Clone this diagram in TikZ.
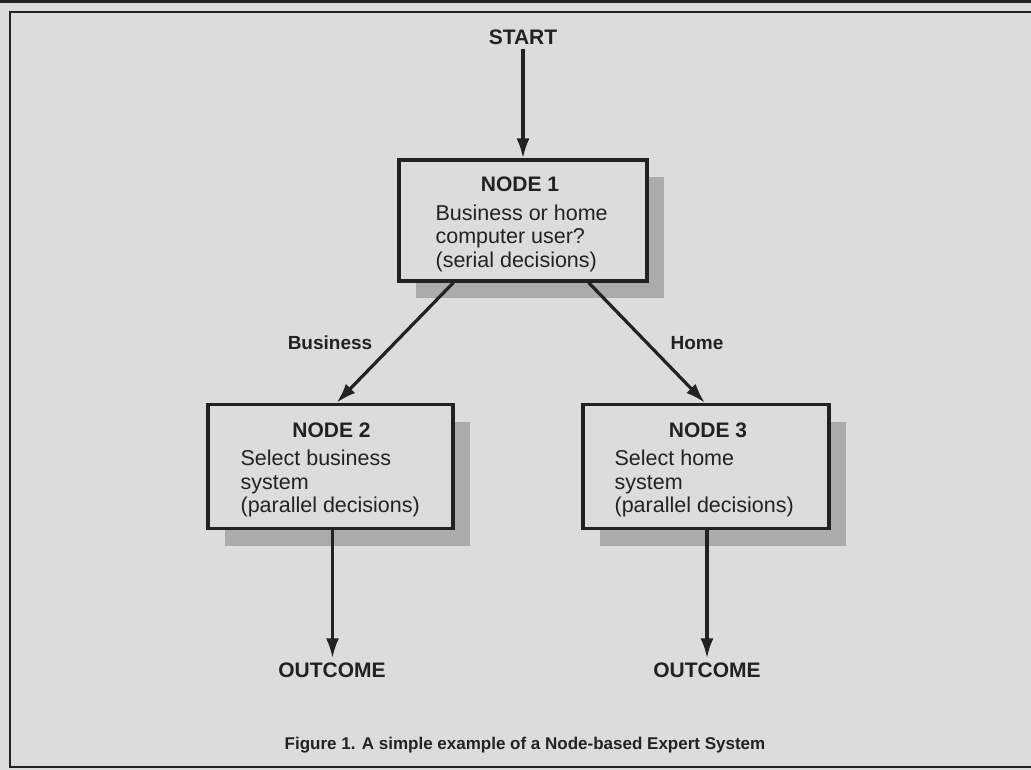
\documentclass[tikz,border=0pt]{standalone}
\usepackage{fontspec}
\setmainfont{Liberation Sans}
\usetikzlibrary{arrows.meta,shadows,calc}
\definecolor{bg}{HTML}{DCDCDC}
\definecolor{ink}{HTML}{222222}
\definecolor{shade}{HTML}{ABABAB}
\begin{document}
\begin{tikzpicture}[x=1pt,y=-1pt,
  box/.style={draw=ink, line width=3.2pt, fill=bg, inner sep=0pt,
    drop shadow={shadow xshift=17pt, shadow yshift=-17pt, fill=shade, opacity=1}},
  title/.style={inner sep=0pt, text=ink, font=\fontsize{21}{24}\selectfont\bfseries},
  body/.style={inner sep=0pt, text=ink, font=\fontsize{21.5}{23.5}\selectfont},
  lbl/.style={inner sep=4pt, text=ink, font=\fontsize{21}{24}\selectfont\bfseries},
  edge/.style={inner sep=0pt, text=ink, font=\fontsize{19}{22}\selectfont\bfseries},
  arr/.style={draw=ink, line width=3.2pt, -{Latex[length=20pt,width=13pt]}},
  frame/.style={draw=ink}]
\fill[bg] (0,0) rectangle (1031,770);
\useasboundingbox (0,0) rectangle (1031,770);
\draw[frame, line width=3pt] (0,1.5) -- (1031,1.5);
\draw[frame, line width=2.8pt] (1031,12) -- (10,12) -- (10,767) -- (1031,767);

% boxes
\node[box, minimum width=248pt, minimum height=121pt] (n1) at (523,220.5) {};
\node[box, minimum width=245pt, minimum height=124pt] (n2) at (330.5,466.5) {};
\node[box, minimum width=246pt, minimum height=124pt] (n3) at (706,466.5) {};

% box texts
\node[title, anchor=base] (n1h) at ($(n1.north)+(-3,33)$) {NODE 1};
\node[body, anchor=base west] (n1b) at ($(n1.north west)+(38,62)$)
  {\begin{tabular}[t]{@{}l@{}}Business or home\\computer user?\\(serial decisions)\end{tabular}};
\node[title, anchor=base] (n2h) at ($(n2.north)+(1,35)$) {NODE 2};
\node[body, anchor=base west] (n2b) at ($(n2.north west)+(34,63)$)
  {\begin{tabular}[t]{@{}l@{}}Select business\\system\\(parallel decisions)\end{tabular}};
\node[title, anchor=base] (n3h) at ($(n3.north)+(2,35)$) {NODE 3};
\node[body, anchor=base west] (n3b) at ($(n3.north west)+(33,63)$)
  {\begin{tabular}[t]{@{}l@{}}Select home\\system\\(parallel decisions)\end{tabular}};

% terminals
\node[lbl] (start) at (523,37) {START};
\node[lbl] (o1) at (332,670) {OUTCOME};
\node[lbl] (o2) at (707,670) {OUTCOME};

% edge labels
\node[edge] (lb) at (330,343) {Business};
\node[edge] (lh) at (697,343) {Home};

% connectors
\draw[arr] (start.south) -- (n1.north);
\draw[arr] ([xshift=56pt]n1.south west) -- ([xshift=6pt]n2.north);
\draw[arr] ([xshift=-60pt]n1.south east) -- ([xshift=-1pt]n3.north);
\draw[arr] ([xshift=2pt]n2.south) -- ([xshift=2pt]n2.south |- o1.north);
\draw[arr] ([xshift=1pt]n3.south) -- ([xshift=1pt]n3.south |- o2.north);

% caption
\node[inner sep=0pt, text=ink, font=\fontsize{17}{20}\selectfont\bfseries] (cap) at (525,745)
  {Figure 1. A simple example of a Node-based Expert System};
\end{tikzpicture}
\end{document}
